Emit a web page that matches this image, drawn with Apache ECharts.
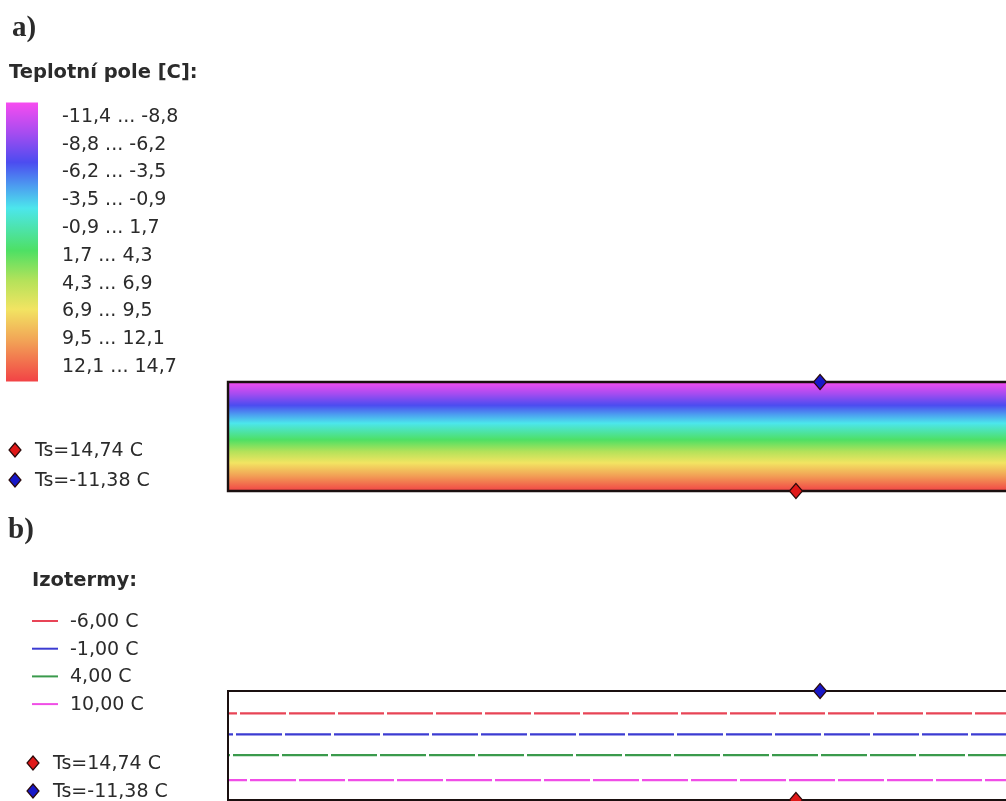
<!DOCTYPE html>
<html>
<head>
<meta charset="utf-8">
<script src="https://cdn.jsdelivr.net/npm/echarts@6/dist/echarts.min.js"></script>
<style>
html,body{margin:0;padding:0;background:#fff;}
#chart{width:1006px;height:801px;}
</style>
</head>
<body>
<div id="chart"></div>
<script>
// ---------- data ----------
const legendRanges = ['-11,4 ... -8,8', '-8,8 ... -6,2', '-6,2 ... -3,5', '-3,5 ... -0,9', '-0,9 ... 1,7',
  '1,7 ... 4,3', '4,3 ... 6,9', '6,9 ... 9,5', '9,5 ... 12,1', '12,1 ... 14,7'];
const surfaceTemps = [14.74, -11.38];          // warm (bottom) and cold (top) surface temperature
const surfaceLabels = ['Ts=14,74 C', 'Ts=-11,38 C'];
const surfacePosX = [73, 76.1];                // position of the markers along the wall
const viewExtent = [0, 100];                   // visible part of the wall
const wallExtent = [0, 115];                   // the wall continues past the right edge
const isothermValues = [-6, -1, 4, 10];
const isothermLabels = ['-6,00 C', '-1,00 C', '4,00 C', '10,00 C'];
const fieldStopsT = [-11.38, -8.5, -5.8, -3.6, -1.5, 2.5, 5.3, 8.0, 11.0, 14.74];

// ---------- styles ----------
const fieldStopColors = ['#f64cf0', '#a44cf0', '#4c4cf0', '#4c9cf0', '#4ce6ec', '#4ee064', '#b4e25a', '#f2e462', '#f2a256', '#f24446'];
const surfaceColors = ['#e01818', '#1818c8'];
const isothermColors = ['#e84456', '#3c3cd2', '#3a9a4c', '#f04ee6'];
const isothermDashOffset = [37, 41, 44, 27];
const textColor = '#2b2b2b';
const sansFont = '"DejaVu Sans", sans-serif';

const tMin = Math.min(...surfaceTemps), tMax = Math.max(...surfaceTemps);

function fieldGradient(y0, y1) {
  return new echarts.graphic.LinearGradient(0, y0, 0, y1,
    fieldStopsT.map((t, i) => ({ offset: Math.min(1, Math.max(0, (t - tMin) / (tMax - tMin))), color: fieldStopColors[i] })), true);
}

const chart = echarts.init(document.getElementById('chart'), null, { renderer: 'canvas' });

const markerData = surfaceTemps.map((t, i) => ({ value: [surfacePosX[i], t], itemStyle: { color: surfaceColors[i] } }));

function markerSeries(idx) {
  return {
    type: 'scatter', xAxisIndex: idx, yAxisIndex: idx, symbol: 'diamond', symbolSize: [13, 15],
    clip: false, silent: true, z: 10,
    itemStyle: { borderColor: '#2a0a0a', borderWidth: 1.2, opacity: 1 },
    data: markerData
  };
}

function wallSeries(idx, filled) {
  return {
    type: 'custom', xAxisIndex: idx, yAxisIndex: idx, silent: true, z: filled ? 2 : 5, clip: false,
    data: [[wallExtent[0], wallExtent[1], tMin, tMax]],
    renderItem: function (params, api) {
      const p0 = api.coord([api.value(0), api.value(2)]);
      const p1 = api.coord([api.value(1), api.value(3)]);
      return { type: 'rect', shape: { x: p0[0], y: p0[1], width: p1[0] - p0[0], height: p1[1] - p0[1] },
        style: { fill: filled ? fieldGradient(p0[1], p1[1]) : 'none', stroke: '#1a1010', lineWidth: filled ? 2.4 : 2 } };
    }
  };
}

const graphics = [];
function addText(text, x, y, font) {
  graphics.push({ type: 'text', x: x, y: y, silent: true,
    style: { text: text, font: font, fill: textColor, verticalAlign: 'middle', align: 'left' } });
}
function addDiamond(cx, cy, color) {
  graphics.push({ type: 'polygon', silent: true,
    shape: { points: [[cx, cy - 7], [cx + 6, cy], [cx, cy + 7], [cx - 6, cy]] },
    style: { fill: color, stroke: '#2a0a0a', lineWidth: 1.2 } });
}

// panel a texts
addText('a)', 12, 29, 'bold 29px "Liberation Serif", serif');
addText('Teplotní pole [C]:', 9, 73, 'bold 19.5px ' + sansFont);
surfaceLabels.forEach((s, i) => {
  addDiamond(15, 450 + i * 30, surfaceColors[i]);
  addText(s, 35, 451 + i * 30, '19px ' + sansFont);
});
// panel b texts
addText('b)', 8, 531, 'bold 29px "Liberation Serif", serif');
addText('Izotermy:', 32, 581, 'bold 19.5px ' + sansFont);
isothermLabels.forEach((s, i) => {
  graphics.push({ type: 'line', silent: true, shape: { x1: 32, y1: 621 + i * 27.7, x2: 58, y2: 621 + i * 27.7 },
    style: { stroke: isothermColors[i], lineWidth: 2 } });
  addText(s, 70, 622 + i * 27.7, '19px ' + sansFont);
});
surfaceLabels.forEach((s, i) => {
  addDiamond(33, 763 + i * 28, surfaceColors[i]);
  addText(s, 53, 764 + i * 28, '19px ' + sansFont);
});

const option = {
  backgroundColor: '#ffffff',
  animation: false,
  grid: [
    { left: 6, top: 103, width: 32, height: 278 },
    { left: 228, top: 382, right: 0, height: 109 },
    { left: 228, top: 691, right: 0, height: 109 }
  ],
  xAxis: [
    { gridIndex: 0, type: 'value', min: 0, max: 1, show: false },
    { gridIndex: 1, type: 'value', min: viewExtent[0], max: viewExtent[1], show: false },
    { gridIndex: 2, type: 'value', min: viewExtent[0], max: viewExtent[1], show: false }
  ],
  yAxis: [
    { gridIndex: 0, type: 'category', data: legendRanges, inverse: true, position: 'right',
      axisLine: { show: false }, axisTick: { show: false }, splitLine: { show: false },
      axisLabel: { margin: 24, fontSize: 19, fontFamily: sansFont, color: textColor } },
    { gridIndex: 1, type: 'value', min: tMin, max: tMax, inverse: true, show: false },
    { gridIndex: 2, type: 'value', min: tMin, max: tMax, inverse: true, show: false }
  ],
  graphic: graphics,
  series: [
    { // colour bar of the legend
      type: 'custom', xAxisIndex: 0, yAxisIndex: 0, silent: true,
      data: legendRanges.map((r, i) => [0, i]),
      renderItem: function (params, api) {
        const n = legendRanges.length;
        const h = api.size([0, 1])[1];
        const c = api.coord([0, api.value(1)]);
        const c1 = api.coord([1, api.value(1)]);
        const top = api.coord([0, 0])[1] - h / 2;
        const bot = api.coord([0, n - 1])[1] + h / 2;
        return { type: 'rect', shape: { x: c[0], y: c[1] - h / 2 - 0.5, width: c1[0] - c[0], height: h + 1 },
          style: { fill: fieldGradient(top, bot) } };
      }
    },
    wallSeries(1, true),
    markerSeries(1),
    ...isothermValues.map((v, i) => ({
      type: 'line', xAxisIndex: 2, yAxisIndex: 2, symbol: 'none', silent: true, z: 3,
      data: [[wallExtent[0], v], [wallExtent[1], v]],
      lineStyle: { color: isothermColors[i], width: 2.2, type: [46, 3], dashOffset: isothermDashOffset[i] }
    })),
    wallSeries(2, false),
    markerSeries(2)
  ]
};
chart.setOption(option);
</script>
</body>
</html>
